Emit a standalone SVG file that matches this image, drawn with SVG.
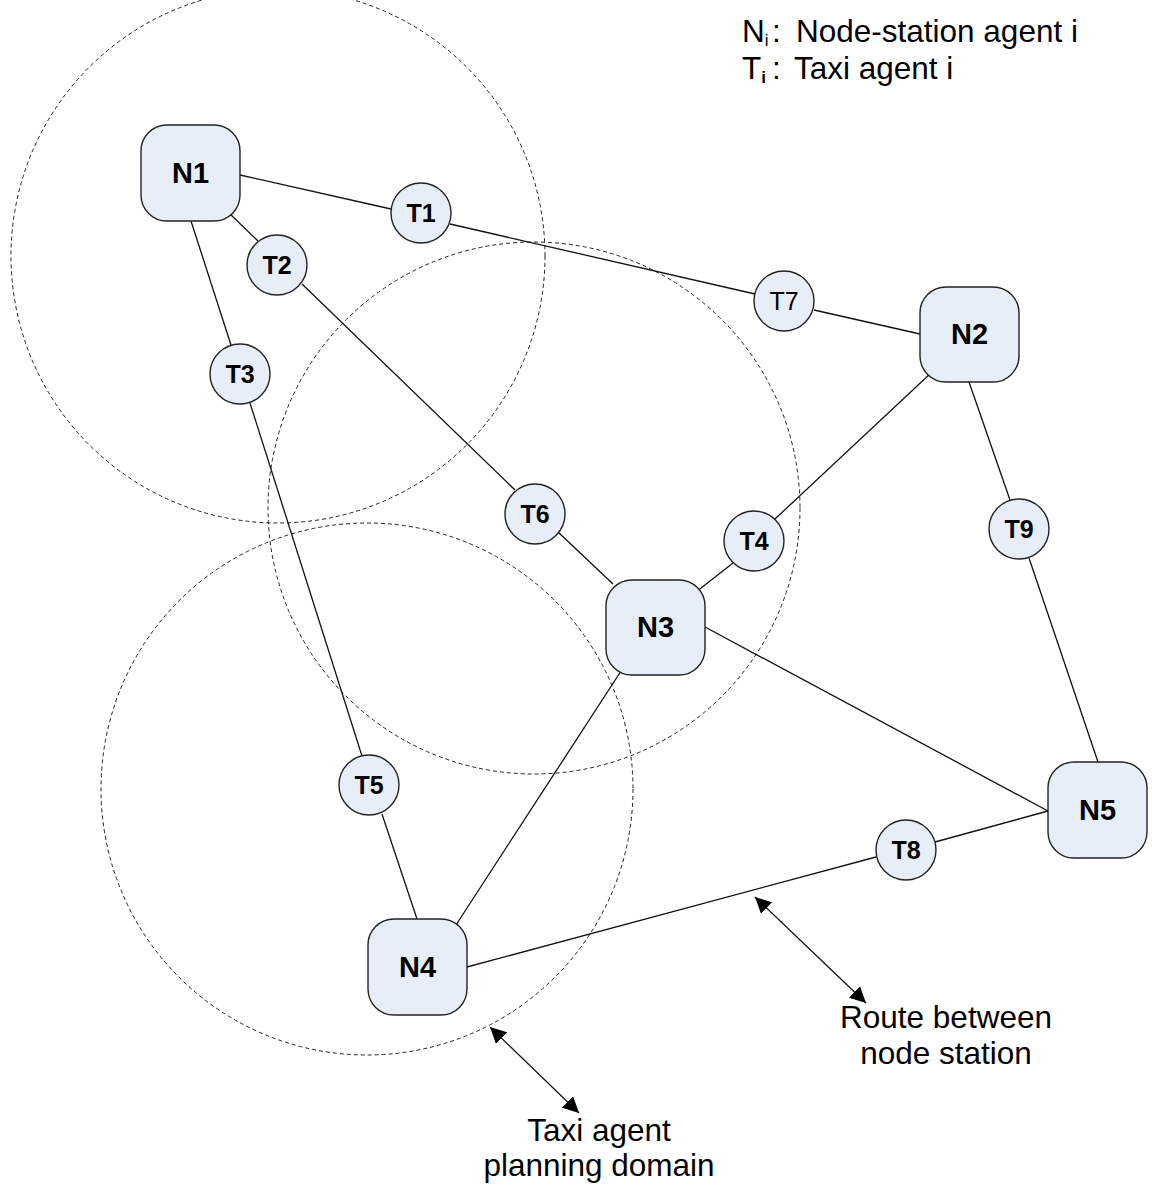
<svg xmlns="http://www.w3.org/2000/svg" width="1152" height="1187" viewBox="0 0 1152 1187">
<style>
.node rect{fill:#E8EEF7;stroke:#222;stroke-width:1.4}
.node circle{fill:#E8EEF7;stroke:#222;stroke-width:1.4}
.nl{font-family:"Liberation Sans",Arial,sans-serif;font-weight:bold;font-size:29px;text-anchor:middle;fill:#000}
.tl{font-family:"Liberation Sans",Arial,sans-serif;font-weight:bold;font-size:25px;text-anchor:middle;fill:#000}
.tr{font-family:"Liberation Sans",Arial,sans-serif;font-size:25px;text-anchor:middle;fill:#000}
.lbl{font-family:"Liberation Sans",Arial,sans-serif;font-size:31.5px;fill:#000}
.dom{fill:none;stroke:#222;stroke-width:1;stroke-dasharray:4 3}
.conn line{stroke:#111;stroke-width:1.3}
.arr{stroke:#111;stroke-width:1.2;marker-start:url(#ah);marker-end:url(#ah)}
</style>
<defs>
<marker id="ah" viewBox="0 0 10 10" refX="10" refY="5" markerWidth="16" markerHeight="16" markerUnits="userSpaceOnUse" orient="auto-start-reverse">
<path d="M0,0 L10,5 L0,10 z" fill="#000"/>
</marker>
</defs>
<rect width="1152" height="1187" fill="#fff"/>
<g id="domains">
<circle class="dom" cx="278" cy="256" r="267"/>
<circle class="dom" cx="534" cy="508" r="266"/>
<circle class="dom" cx="367" cy="789" r="266"/>
</g>
<g id="connectors" class="conn">
<line x1="240" y1="175" x2="391" y2="209"/>
<line x1="450" y1="224" x2="755" y2="294"/>
<line x1="814" y1="310" x2="920" y2="334"/>
<line x1="228" y1="212" x2="258" y2="241"/>
<line x1="302" y1="284" x2="515" y2="490"/>
<line x1="558" y1="532" x2="613" y2="584"/>
<line x1="696" y1="592" x2="733" y2="563"/>
<line x1="775" y1="519" x2="931" y2="373"/>
<line x1="969" y1="382" x2="1010" y2="500"/>
<line x1="1029" y1="558" x2="1098" y2="762"/>
<line x1="191" y1="221" x2="231" y2="345"/>
<line x1="250" y1="403" x2="362" y2="756"/>
<line x1="382" y1="814" x2="417" y2="919"/>
<line x1="454" y1="928" x2="623" y2="668"/>
<line x1="467" y1="967" x2="876" y2="857"/>
<line x1="935" y1="842" x2="1048" y2="811"/>
<line x1="705" y1="627" x2="1048" y2="811"/>
<line class="arr" x1="490" y1="1027" x2="579" y2="1113"/>
<line class="arr" x1="755" y1="897" x2="866" y2="1003"/>
</g>
<g id="N1" class="node"><rect x="141" y="125" width="99" height="96" rx="26"/><text class="nl" x="190.5" y="183">N1</text></g>
<g id="N2" class="node"><rect x="920" y="287" width="99" height="95" rx="26"/><text class="nl" x="969.5" y="344">N2</text></g>
<g id="N3" class="node"><rect x="606" y="580" width="99" height="95" rx="26"/><text class="nl" x="655.5" y="637">N3</text></g>
<g id="N4" class="node"><rect x="368" y="919" width="99" height="96" rx="26"/><text class="nl" x="417.5" y="977">N4</text></g>
<g id="N5" class="node"><rect x="1048" y="762" width="99" height="96" rx="26"/><text class="nl" x="1097.5" y="820">N5</text></g>
<g id="T1" class="node"><circle cx="421" cy="213" r="30"/><text class="tl" x="421" y="222">T1</text></g>
<g id="T2" class="node"><circle cx="277" cy="265" r="30"/><text class="tl" x="277" y="274">T2</text></g>
<g id="T3" class="node"><circle cx="240" cy="374" r="30"/><text class="tl" x="240" y="383">T3</text></g>
<g id="T4" class="node"><circle cx="754" cy="541" r="30"/><text class="tl" x="754" y="550">T4</text></g>
<g id="T5" class="node"><circle cx="369" cy="785" r="30"/><text class="tl" x="369" y="794">T5</text></g>
<g id="T6" class="node"><circle cx="535" cy="514" r="30"/><text class="tl" x="535" y="523">T6</text></g>
<g id="T7" class="node"><circle cx="784" cy="301" r="30"/><text class="tr" x="784" y="310">T7</text></g>
<g id="T8" class="node"><circle cx="906" cy="850" r="30"/><text class="tl" x="906" y="859">T8</text></g>
<g id="T9" class="node"><circle cx="1019" cy="529" r="30"/><text class="tl" x="1019" y="538">T9</text></g>
<g id="legend">
<text class="lbl" x="742" y="42">N<tspan font-size="17" dy="4">i</tspan><tspan dy="-4" x="772">:</tspan><tspan x="796">Node-station agent i</tspan></text>
<text class="lbl" x="742" y="79">T<tspan font-size="17" font-weight="bold" dy="4">i</tspan><tspan dy="-4" x="772">:</tspan><tspan x="794">Taxi agent i</tspan></text>
</g>
<g id="labels">
<text class="lbl" x="946" y="1028" text-anchor="middle">Route between</text>
<text class="lbl" x="946" y="1064" text-anchor="middle">node station</text>
<text class="lbl" x="599" y="1141" text-anchor="middle">Taxi agent</text>
<text class="lbl" x="599" y="1176" text-anchor="middle">planning domain</text>
</g>
</svg>
